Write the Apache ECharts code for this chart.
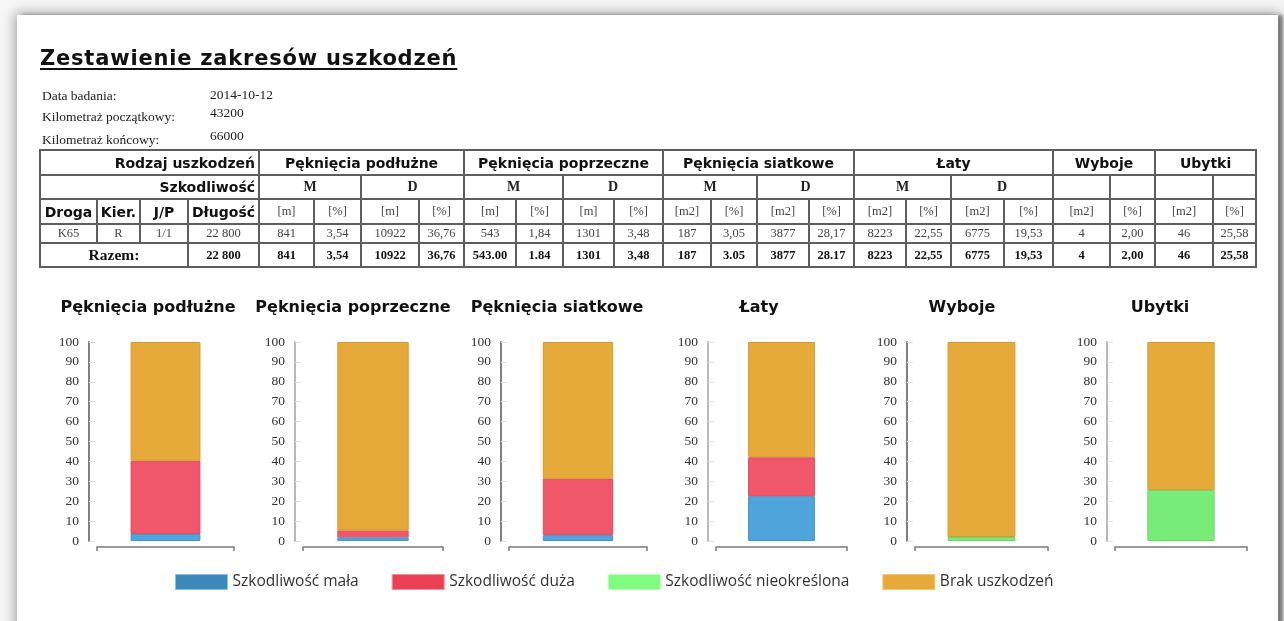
<!DOCTYPE html>
<html>
<head>
<meta charset="utf-8">
<script src="https://cdn.jsdelivr.net/npm/echarts@6/dist/echarts.min.js"></script>
<style>
html,body{margin:0;padding:0;width:1284px;height:621px;overflow:hidden;background:#f6f6f6;}
#page{position:absolute;left:17px;top:15px;width:1261px;height:660px;background:#fff;
  box-shadow:5px 0 3px rgba(0,0,0,0.38),0 0 12px 2px rgba(0,0,0,0.35);}
#chart{position:absolute;left:0;top:0;width:1284px;height:621px;}
#title{position:absolute;left:40px;top:46px;font-family:'DejaVu Sans';font-weight:bold;font-size:21px;
  letter-spacing:0.8px;text-decoration:underline;text-underline-offset:3px;color:#111;white-space:nowrap;}
.info{position:absolute;font-family:'Liberation Serif';font-size:13.5px;color:#222;white-space:nowrap;}
#tbl{position:absolute;left:39px;top:149px;border-collapse:collapse;table-layout:fixed;width:1216px;}
#tbl td{border:2px solid #5e5e5e;padding:0;text-align:center;overflow:hidden;white-space:nowrap;
  font-family:'Liberation Serif';font-size:12.5px;color:#444;}
#tbl td.hs{font-family:'DejaVu Sans';font-weight:bold;font-size:14px;color:#111;}
#tbl td.hr{text-align:right;padding-right:3px;}
#tbl td.sev{font-weight:bold;font-size:14px;color:#222;}
#tbl tr.sum td{font-weight:bold;color:#111;}
#tbl td.raz{font-size:15.5px;}
</style>
</head>
<body>
<div id="page"></div>
<div id="chart"></div>
<div id="title">Zestawienie zakresów uszkodzeń</div>
<div class="info" style="left:42px;top:88px;">Data badania:</div>
<div class="info" style="left:210px;top:87px;">2014-10-12</div>
<div class="info" style="left:42px;top:109px;">Kilometraż początkowy:</div>
<div class="info" style="left:210px;top:105px;">43200</div>
<div class="info" style="left:42px;top:132px;">Kilometraż końcowy:</div>
<div class="info" style="left:210px;top:128px;">66000</div>
<table id="tbl"></table>
<script>
// ---------- DATA ----------
const damageTypes = ['Pęknięcia podłużne','Pęknięcia poprzeczne','Pęknięcia siatkowe','Łaty','Wyboje','Ubytki'];
const severityHeaders = ['M','D'];
const unitLabels = ['[m]','[%]','[m]','[%]','[m]','[%]','[m]','[%]','[m2]','[%]','[m2]','[%]','[m2]','[%]','[m2]','[%]','[m2]','[%]','[m2]','[%]'];
const roadHeaders = ['Droga','Kier.','J/P','Długość'];
const roadRow = ['K65','R','1/1','22 800'];
const valuesRow = ['841','3,54','10922','36,76','543','1,84','1301','3,48','187','3,05','3877','28,17','8223','22,55','6775','19,53','4','2,00','46','25,58'];
const totalLength = '22 800';
const totalsRow = ['841','3,54','10922','36,76','543.00','1.84','1301','3,48','187','3.05','3877','28.17','8223','22,55','6775','19,53','4','2,00','46','25,58'];

const seriesNames = ['Szkodliwość mała','Szkodliwość duża','Szkodliwość nieokreślona','Brak uszkodzeń'];
const smallPct     = [3.54, 1.84, 3.05, 22.55, 0, 0];
const largePct     = [36.76, 3.48, 28.17, 19.53, 0, 0];
const undefinedPct = [0, 0, 0, 0, 2.00, 25.58];
const nonePct      = [59.70, 94.68, 68.78, 57.92, 98.00, 74.42];
const yTicks = [0,10,20,30,40,50,60,70,80,90,100];

// ---------- TABLE ----------
const colWidths=[57,43,48,71,55,47,58,45,52,47,51,49,48,46,52,45,52,45,53,49,57,45,58,43];
const rowHeights=[25,24,25,19,24];
const tbl=document.getElementById('tbl');
let html='<colgroup>'+colWidths.map(w=>'<col style="width:'+w+'px">').join('')+'</colgroup>';
html+='<tr style="height:'+rowHeights[0]+'px"><td colspan="4" class="hs hr">Rodzaj uszkodzeń</td>';
damageTypes.forEach((d,i)=>{html+='<td class="hs" colspan="'+(i<4?4:2)+'">'+d+'</td>';});
html+='</tr><tr style="height:'+rowHeights[1]+'px"><td colspan="4" class="hs hr">Szkodliwość</td>';
damageTypes.forEach((d,i)=>{
  if(i<4){severityHeaders.forEach(s=>{html+='<td class="sev" colspan="2">'+s+'</td>';});}
  else{html+='<td></td><td></td>';}
});
html+='</tr><tr style="height:'+rowHeights[2]+'px">';
roadHeaders.forEach(h=>{html+='<td class="hs">'+h+'</td>';});
unitLabels.forEach(u=>{html+='<td>'+u+'</td>';});
html+='</tr><tr style="height:'+rowHeights[3]+'px">';
roadRow.forEach(v=>{html+='<td>'+v+'</td>';});
valuesRow.forEach(v=>{html+='<td>'+v+'</td>';});
html+='</tr><tr class="sum" style="height:'+rowHeights[4]+'px"><td colspan="3" class="raz">Razem:</td><td>'+totalLength+'</td>';
totalsRow.forEach(v=>{html+='<td>'+v+'</td>';});
html+='</tr>';
tbl.innerHTML=html;

// ---------- CHARTS ----------
const gridLefts=[97,303,509,716,915,1115];
const gridWidths=[137,140,138,131,133,132];
const titleCenters=[148,353,557,759,962,1160];
const axisColors=['#808080','#b8b8b8','#808080','#b8b8b8','#808080','#b8b8b8'];
const barColors=['#4ea4db','#f1576b','#78eb78','#e6aa3a'];
const barBorders=['#4796c8','#e04c60','#6cd86c','#d39a30'];
const legendColors=['#3d88bb','#ea3f54','#80fd80','#e6a93a'];
const legendBorders=['#8cc2e6','#f4909c','#b8ffb8','#f0c878'];
const pctSeries=[smallPct,largePct,undefinedPct,nonePct];

const chart=echarts.init(document.getElementById('chart'),null,{renderer:'canvas'});
const grids=[],xAxes=[],yAxes=[],titles=[],series=[];
damageTypes.forEach((name,i)=>{
  titles.push({text:name,left:titleCenters[i],top:300,textAlign:'center',padding:0,
    textStyle:{fontFamily:'DejaVu Sans',fontWeight:'bold',fontSize:16,color:'#111'}});
  grids.push({left:gridLefts[i],width:gridWidths[i],top:342,height:199});
  xAxes.push({type:'category',gridIndex:i,data:[name],offset:6,
    axisLine:{onZero:false,lineStyle:{color:'#7a7a7a',width:1.5}},
    axisTick:{show:true,length:4,lineStyle:{color:'#7a7a7a',width:1.5}},
    axisLabel:{show:false},splitLine:{show:false}});
  yAxes.push({type:'value',gridIndex:i,min:0,max:100,interval:10,offset:8,
    axisLine:{show:true,lineStyle:{color:axisColors[i],width:2}},
    axisTick:{show:true,inside:true,length:6,lineStyle:{color:'#e2e2e2'}},
    axisLabel:{margin:10,fontFamily:'Liberation Serif',fontSize:13.5,color:'#333',
      formatter:v=>yTicks.indexOf(v)>=0?String(v):''},
    splitLine:{show:false}});
  seriesNames.forEach((sn,k)=>{
    const v=pctSeries[k][i];
    series.push({type:'bar',name:sn,xAxisIndex:i,yAxisIndex:i,stack:'s'+i,barWidth:'51%',
      data:[v===0?'-':v],
      itemStyle:{color:barColors[k],borderColor:barBorders[k],borderWidth:1},
      emphasis:{disabled:true},silent:true});
  });
});

chart.setOption({
  animation:false,
  backgroundColor:'transparent',
  title:titles,
  grid:grids,
  xAxis:xAxes,
  yAxis:yAxes,
  legend:{left:170,top:569,itemWidth:52,itemHeight:15,itemGap:33,icon:'rect',selectedMode:false,
    textStyle:{fontFamily:'Open Sans',fontSize:15.5,color:'#333'},
    data:seriesNames.map((n,k)=>({name:n,itemStyle:{color:legendColors[k],borderColor:legendBorders[k],borderWidth:1}}))},
  series:series
});
</script>
</body>
</html>
